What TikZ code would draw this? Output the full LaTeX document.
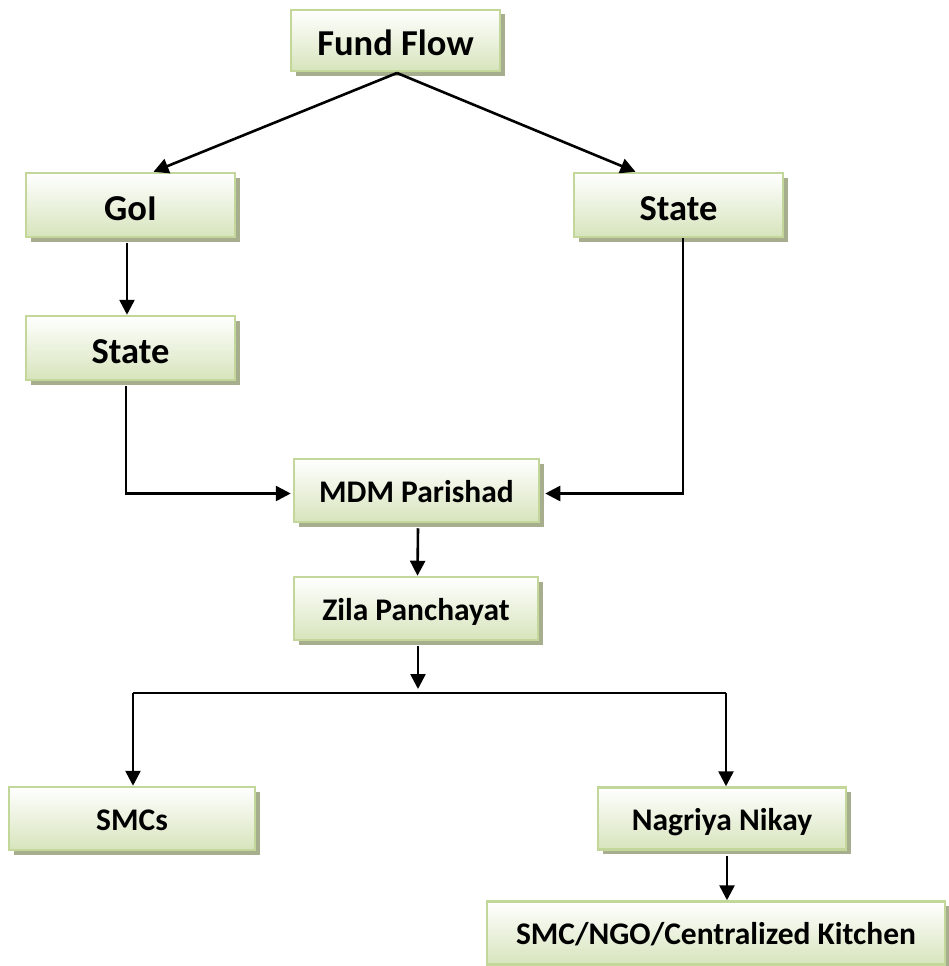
\documentclass[tikz,border=0pt]{standalone}
\usepackage{fontspec}
\setmainfont{Carlito}
\usetikzlibrary{arrows.meta,shadows}

\definecolor{boxline}{RGB}{196,215,155}
\definecolor{boxbottom}{RGB}{215,228,188}
\definecolor{boxshadow}{RGB}{166,174,142}

\tikzset{
  flowbox/.style={
    rectangle, inner sep=0pt, line width=2.5pt, draw=boxline,
    top color=white, bottom color=boxbottom,
    drop shadow={shadow xshift=4.5pt, shadow yshift=-4.5pt, fill=boxshadow, opacity=1},
    font=\bfseries\fontsize{31.5}{36}\selectfont, text=black,
    text height=23pt, text depth=0pt
  },
  bigbox/.style={flowbox, font=\bfseries\fontsize{36.5}{40}\selectfont,
    text height=31pt, text depth=0pt},
  link/.style={line width=2.6pt, draw=black, -{Triangle[length=15pt,width=15pt]}},
  plain/.style={line width=2.6pt, draw=black}
}

\begin{document}
\begin{tikzpicture}[x=1pt,y=-1pt]
  \useasboundingbox (0,0) rectangle (949,966);

  % boxes
  \node[bigbox, minimum width=209pt, minimum height=61pt] (fund) at (395.5,40.5) {Fund Flow};
  \node[bigbox, minimum width=209pt, minimum height=64pt] (goi) at (130.5,205) {GoI};
  \node[bigbox, minimum width=209pt, minimum height=64pt] (stateR) at (678.5,205) {State};
  \node[bigbox, minimum width=209pt, minimum height=64pt] (stateL) at (130.5,348) {State};
  \node[flowbox, minimum width=245pt, minimum height=63pt] (mdm) at (416.5,490.5) {MDM Parishad};
  \node[flowbox, minimum width=244pt, minimum height=63pt] (zila) at (416,608.5) {Zila Panchayat};
  \node[flowbox, minimum width=246pt, minimum height=63pt] (smcs) at (132,818.5) {SMCs};
  \node[flowbox, minimum width=248pt, minimum height=62pt] (nagriya) at (722,818.5) {Nagriya Nikay};
  \node[flowbox, minimum width=458pt, minimum height=63pt] (kitchen) at (716,933) {SMC/NGO/Centralized Kitchen};

  % junction points
  \coordinate (apex) at (397,73);
  \coordinate (split) at (418,689);
  \coordinate (busL) at (133,693);
  \coordinate (busR) at (726,693);

  % connectors
  \draw[link] (apex) -- ([xshift=23pt]goi.north);
  \draw[link] (apex) -- ([xshift=-43pt]stateR.north);
  \draw[link] ([xshift=-3.5pt,yshift=-5pt]goi.south) -- ([xshift=-3.5pt]stateL.north);
  \draw[link] ([xshift=-4.5pt,yshift=-5pt]stateL.south) |- ([yshift=-3pt,xshift=-2pt]mdm.west);
  \draw[link] ([xshift=4.5pt]stateR.south) |- ([yshift=-3pt,xshift=5pt]mdm.east);
  \draw[link] ([xshift=1.5pt,yshift=-5pt]mdm.south) -- ([xshift=1.5pt]zila.north);
  \draw[link] ([xshift=2pt,yshift=-5pt]zila.south) -- (split);
  \draw[plain] (busL) -- (busR);
  \draw[link] (busL) -- (busL |- smcs.north);
  \draw[link] (busR) -- (busR |- nagriya.north);
  \draw[link] ([xshift=5pt,yshift=-5pt]nagriya.south) -- ([xshift=5pt]nagriya.south |- kitchen.north);
\end{tikzpicture}
\end{document}
